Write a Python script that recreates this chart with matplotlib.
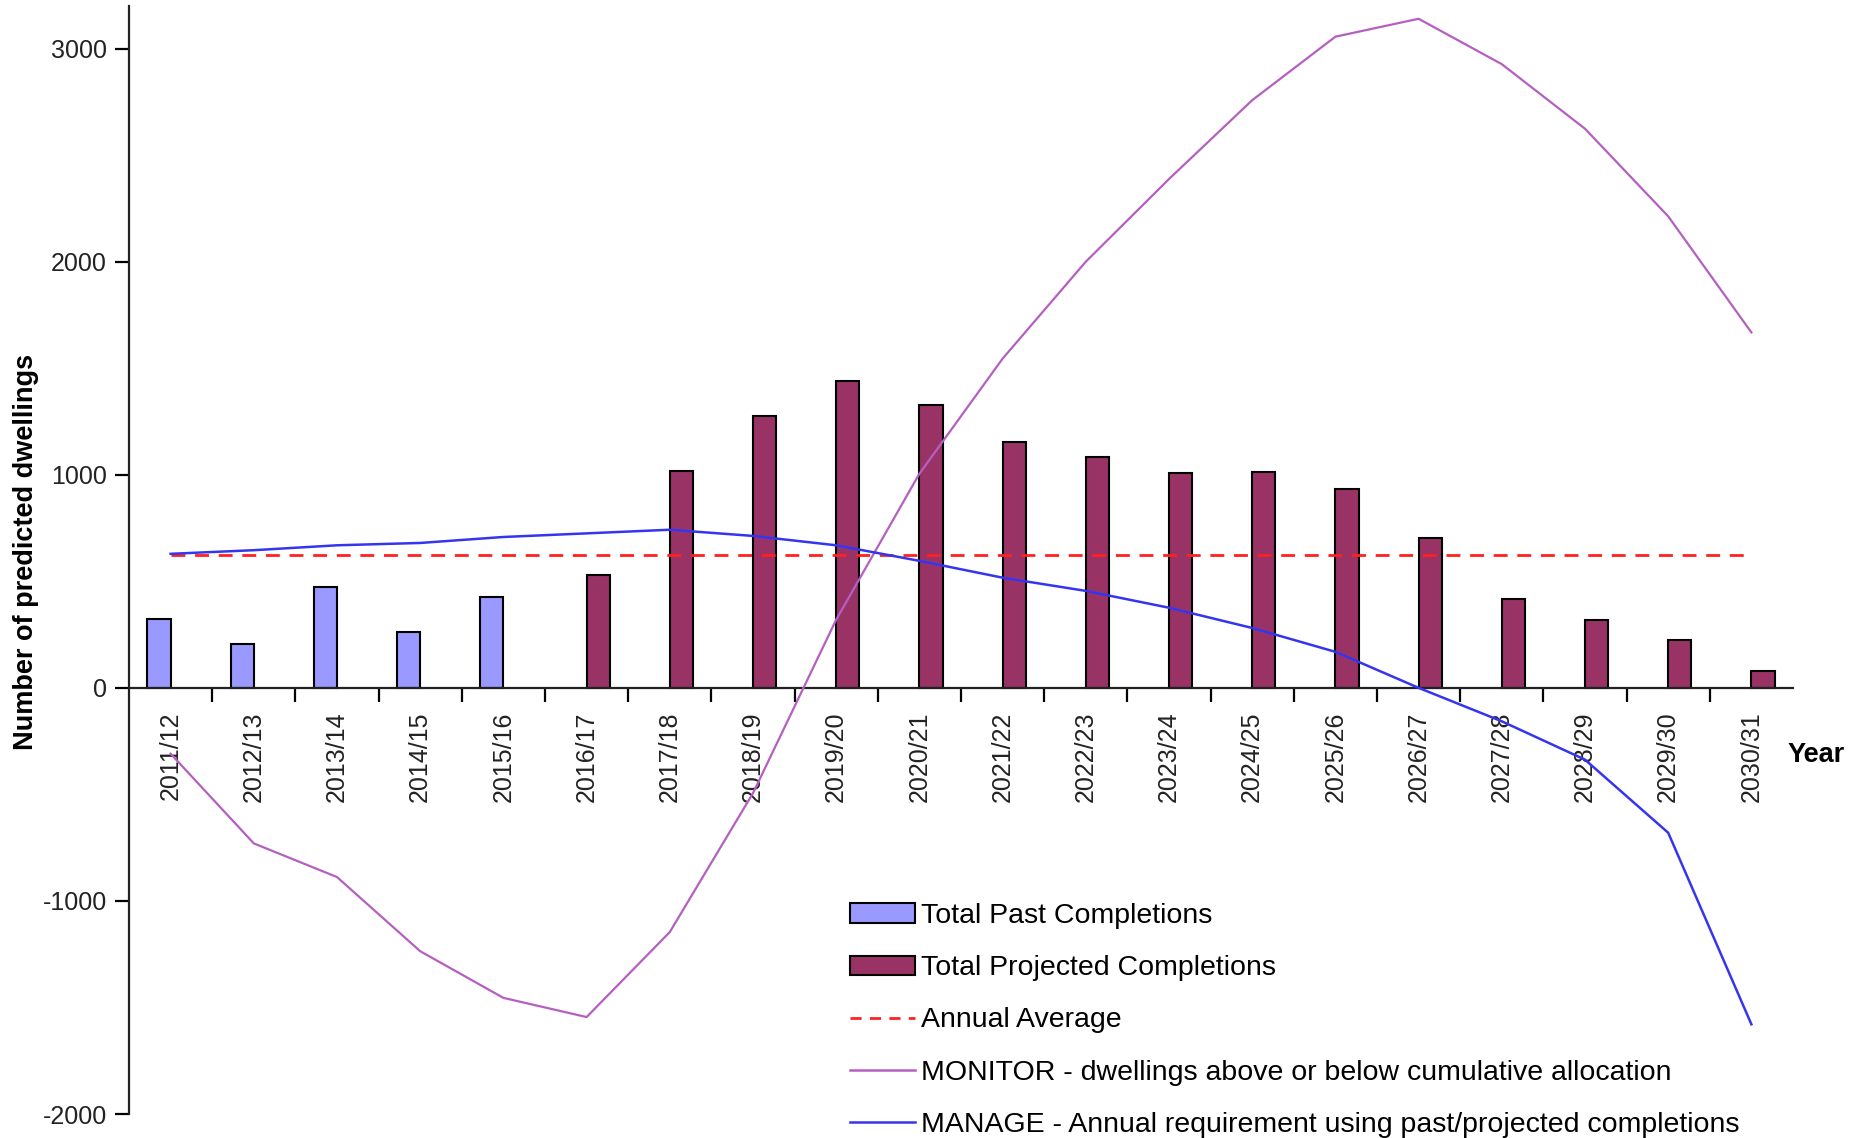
import matplotlib
matplotlib.use("Agg")
import matplotlib.pyplot as plt
from matplotlib import font_manager as fm
from matplotlib.patches import Patch
from matplotlib.lines import Line2D
import numpy as np

years = ["2011/12", "2012/13", "2013/14", "2014/15", "2015/16", "2016/17", "2017/18",
         "2018/19", "2019/20", "2020/21", "2021/22", "2022/23", "2023/24", "2024/25",
         "2025/26", "2026/27", "2027/28", "2028/29", "2029/30", "2030/31"]
past = [322, 208, 471, 261, 427, None, None, None, None, None, None, None, None, None,
        None, None, None, None, None, None]
projected = [None, None, None, None, None, 530, 1017, 1275, 1438, 1326, 1152, 1084,
             1006, 1011, 933, 702, 416, 320, 225, 79]
annual_average = [625] * 20
monitor = [-309, -730, -888, -1236, -1455, -1545, -1146, -494, 320, 1005, 1545, 2000,
           2388, 2758, 3056, 3140, 2927, 2624, 2213, 1668]
manage = [629, 646, 669, 680, 708, 725, 742, 713, 669, 596, 517, 455, 376, 281, 169,
          0, -157, -337, -680, -1579]
yticks = [-2000, -1000, 0, 1000, 2000, 3000]

base = "Liberation Sans"
try:
    fm.findfont("Liberation Sans Narrow", fallback_to_default=False)
    narrow = "Liberation Sans Narrow"
except Exception:
    narrow = base
plt.rcParams["font.family"] = [base, "DejaVu Sans"]

fig = plt.figure(figsize=(18.73, 11.38), dpi=100)
ax = fig.add_axes([129 / 1873, 1 - 1114 / 1138, (1793 - 129) / 1873, (1114 - 6) / 1138])

x = np.arange(len(years))
w = 0.28
past_v = [np.nan if v is None else v for v in past]
proj_v = [np.nan if v is None else v for v in projected]
ax.bar(x - w / 2, past_v, width=w, color="#9999FF", edgecolor="black", linewidth=1.5, zorder=2)
ax.bar(x + w / 2, proj_v, width=w, color="#993366", edgecolor="black", linewidth=1.5, zorder=2)
ax.plot(x, annual_average, color="#FF2020", linestyle=(0, (5, 3.5)), linewidth=2, zorder=3)
ax.plot(x, monitor, color="#B55FC0", linewidth=1.6, zorder=4)
ax.plot(x, manage, color="#3535F0", linewidth=1.8, zorder=4)

ax.set_xlim(-0.5, len(years) - 0.5)
ax.set_ylim(-2000, 3200)
ax.spines["top"].set_visible(False)
ax.spines["right"].set_visible(False)
ax.spines["bottom"].set_position(("data", 0))
ax.spines["left"].set_bounds(-2000, 3200)
for s in ("left", "bottom"):
    ax.spines[s].set_linewidth(1.6)
    ax.spines[s].set_color("#222222")

ax.set_yticks(yticks)
ax.set_yticklabels([str(v) for v in yticks], fontsize=18, color="#222222")
ax.tick_params(axis="y", length=10, width=1.6, pad=6)

ax.set_xticks(np.arange(0.5, len(years) - 0.5, 1.0))
ax.set_xticklabels([])
ax.tick_params(axis="x", which="major", length=10, width=1.6, direction="out")
ax.set_xticks(x, minor=True)
ax.set_xticklabels(years, minor=True, rotation=90, fontsize=18, color="#222222")
ax.tick_params(axis="x", which="minor", length=0, pad=17)

fig.text(26 / 1873, 1 - 552 / 1138, "Number of predicted dwellings", rotation=90,
         fontsize=19.5, fontweight="bold", ha="center", va="center")
fig.text(1788 / 1873, 1 - 755 / 1138, "Year", fontsize=19.5, fontweight="bold",
         ha="left", va="center")

handles = [
    Patch(facecolor="#9999FF", edgecolor="black", linewidth=1.5),
    Patch(facecolor="#993366", edgecolor="black", linewidth=1.5),
    Line2D([], [], color="#FF2020", linestyle=(0, (4, 3)), linewidth=2),
    Line2D([], [], color="#B55FC0", linewidth=1.8),
    Line2D([], [], color="#3535F0", linewidth=1.8),
]
labels = ["Total Past Completions", "Total Projected Completions", "Annual Average",
          "MONITOR - dwellings above or below cumulative allocation",
          "MANAGE - Annual requirement using past/projected completions"]
leg = fig.legend(handles, labels, loc="upper left", bbox_to_anchor=(850 / 1873, 1 - 903 / 1138),
                 frameon=False, prop={"family": [narrow, "DejaVu Sans"], "size": 20.5},
                 handlelength=2.3, handleheight=0.65, handletextpad=0.2, labelspacing=0.92,
                 borderaxespad=0, borderpad=0)

fig.savefig("out.png", dpi=100)
